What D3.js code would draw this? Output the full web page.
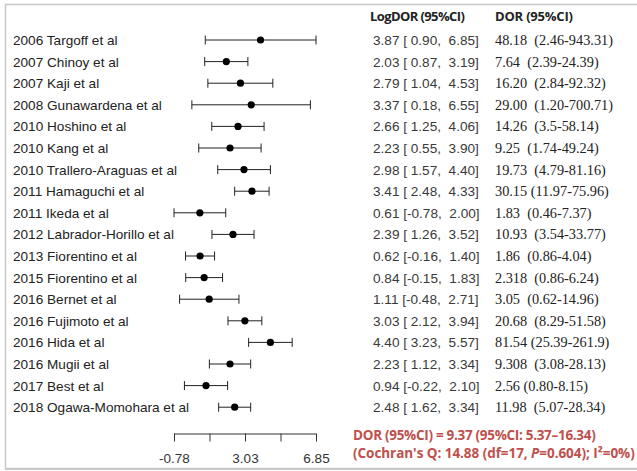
<!DOCTYPE html>
<html>
<head>
<meta charset="utf-8">
<script src="https://cdn.jsdelivr.net/npm/d3@7"></script>
<style>
  body { margin: 0; background: #fff; }
  svg text { white-space: pre; }
</style>
</head>
<body>
<svg></svg>
<script>
const width = 637;
const height = 471;

// study data
const studies = [
    "2006 Targoff et al", "2007 Chinoy et al", "2007 Kaji et al", "2008 Gunawardena et al",
    "2010 Hoshino et al", "2010 Kang et al", "2010 Trallero-Araguas et al", "2011 Hamaguchi et al",
    "2011 Ikeda et al", "2012 Labrador-Horillo et al", "2013 Fiorentino et al", "2015 Fiorentino et al",
    "2016 Bernet et al", "2016 Fujimoto et al", "2016 Hida et al", "2016 Mugii et al",
    "2017 Best et al", "2018 Ogawa-Momohara et al"
];
const logDor = [3.87, 2.03, 2.79, 3.37, 2.66, 2.23, 2.98, 3.41, 0.61, 2.39, 0.62, 0.84, 1.11, 3.03, 4.40, 2.23, 0.94, 2.48];
const logLower = [0.90, 0.87, 1.04, 0.18, 1.25, 0.55, 1.57, 2.48, -0.78, 1.26, -0.16, -0.15, -0.48, 2.12, 3.23, 1.12, -0.22, 1.62];
const logUpper = [6.85, 3.19, 4.53, 6.55, 4.06, 3.90, 4.40, 4.33, 2.00, 3.52, 1.40, 1.83, 2.71, 3.94, 5.57, 3.34, 2.10, 3.34];
const dorLabels = [
    "48.18  (2.46-943.31)", "7.64  (2.39-24.39)", "16.20  (2.84-92.32)", "29.00  (1.20-700.71)",
    "14.26  (3.5-58.14)", "9.25  (1.74-49.24)", "19.73  (4.79-81.16)", "30.15 (11.97-75.96)",
    "1.83  (0.46-7.37)", "10.93  (3.54-33.77)", "1.86  (0.86-4.04)", "2.318  (0.86-6.24)",
    "3.05  (0.62-14.96)", "20.68  (8.29-51.58)", "81.54 (25.39-261.9)", "9.308  (3.08-28.13)",
    "2.56 (0.80-8.15)", "11.98  (5.07-28.34)"
];
const axisTicks = [-0.78, 1.1275, 3.035, 4.9425, 6.85];
const axisLabels = ["-0.78", "", "3.03", "", "6.85"];
const summaryLines = [
    "DOR (95%CI) = 9.37 (95%CI: 5.37\u201316.34)",
    "(Cochran's Q: 14.88 (df=17, P=0.604); I\u00b2=0%)"
];

const svg = d3.select("svg")
    .attr("width", width)
    .attr("height", height);

// frame
svg.append("path")
    .attr("d", `M${width + 2},4.5 H5.5 V468.5 H${width + 2}`)
    .attr("fill", "none")
    .attr("stroke", "#c8c8c8")
    .attr("stroke-width", 1.5);
svg.append("line")
    .attr("x1", 5).attr("x2", width)
    .attr("y1", 469).attr("y2", 469)
    .attr("stroke", "#c8c8c8")
    .attr("stroke-width", 2);

const x = d3.scaleLinear().domain([-0.78, 6.85]).range([174, 316]);
const y = d3.scaleBand().domain(d3.range(studies.length)).range([29.2, 418]);
const rowY = i => y(i) + y.bandwidth() / 2;

const sans = "'Liberation Sans', Arial, sans-serif";

// headers
svg.append("text")
    .attr("x", 370).attr("y", 21)
    .attr("font-family", "'Open Sans', sans-serif")
    .attr("font-weight", "bold")
    .attr("font-size", 13)
    .attr("fill", "#222")
    .attr("letter-spacing", -0.6)
    .text("LogDOR (95%CI)");
svg.append("text")
    .attr("x", 495).attr("y", 21)
    .attr("font-family", "'Open Sans', sans-serif")
    .attr("font-weight", "bold")
    .attr("font-size", 13)
    .attr("fill", "#222")
    .attr("letter-spacing", -0.2)
    .text("DOR (95%CI)");

const rows = svg.selectAll(".row")
    .data(studies)
    .enter()
    .append("g")
    .attr("class", "row")
    .attr("transform", (d, i) => `translate(0, ${rowY(i)})`);

rows.append("text")
    .attr("x", 13).attr("y", 5)
    .attr("font-family", sans)
    .attr("font-size", 13.6)
    .attr("fill", "#222")
    .text(d => d);

rows.append("line")
    .attr("x1", (d, i) => x(logLower[i]))
    .attr("x2", (d, i) => x(logUpper[i]))
    .attr("stroke", "#222")
    .attr("stroke-width", 1);

rows.selectAll(".cap")
    .data((d, i) => [logLower[i], logUpper[i]])
    .enter()
    .append("line")
    .attr("class", "cap")
    .attr("x1", v => x(v)).attr("x2", v => x(v))
    .attr("y1", -4.5).attr("y2", 4.5)
    .attr("stroke", "#222")
    .attr("stroke-width", 1);

rows.append("circle")
    .attr("cx", (d, i) => x(logDor[i]))
    .attr("r", 3.6)
    .attr("fill", "#000");

const fmt = v => (v < 0 ? "" : " ") + v.toFixed(2);

rows.append("text")
    .attr("x", 373).attr("y", 5)
    .attr("font-family", sans)
    .attr("font-size", 13.6)
    .attr("fill", "#3a3a3a")
    .text((d, i) => `${logDor[i].toFixed(2)} [${fmt(logLower[i])},  ${logUpper[i].toFixed(2)}]`);

rows.append("text")
    .attr("x", 495).attr("y", 5)
    .attr("font-family", "'Liberation Serif', 'Times New Roman', serif")
    .attr("font-size", 14.3)
    .attr("fill", "#222")
    .text((d, i) => dorLabels[i]);

// axis
const axis = d3.axisBottom(x)
    .tickValues(axisTicks)
    .tickFormat((d, i) => axisLabels[i])
    .tickSize(8)
    .tickSizeOuter(0);

const axisG = svg.append("g")
    .attr("transform", "translate(0, 433.5)")
    .call(axis);
axisG.select(".domain").attr("stroke", "#333");
axisG.selectAll(".tick line").attr("stroke", "#333");
axisG.selectAll(".tick text")
    .attr("y", 20)
    .attr("font-family", sans)
    .attr("font-size", 13.5)
    .attr("fill", "#333");
// domain drawn as flat line (no outer ticks above)
axisG.select(".domain").attr("d", `M${x(-0.78)},0.5H${x(6.85)}`);

// summary
svg.selectAll(".summary")
    .data(summaryLines)
    .enter()
    .append("text")
    .attr("class", "summary")
    .attr("x", 353)
    .attr("y", (d, i) => 440 + i * 18)
    .attr("font-family", "'Open Sans', sans-serif")
    .attr("font-weight", "bold")
    .attr("font-size", 13.5)
    .attr("letter-spacing", (d, i) => i === 1 ? -0.05 : -0.3)
    .attr("fill", "#c0504d")
    .each(function (d, i) {
        const t = d3.select(this);
        if (i === 1) {
            t.append("tspan").text("(Cochran's Q: 14.88 (df=17, ");
            t.append("tspan").attr("font-style", "italic").text("P");
            t.append("tspan").text("=0.604); I\u00b2=0%)");
        } else {
            t.text(d);
        }
    });
</script>
</body>
</html>
